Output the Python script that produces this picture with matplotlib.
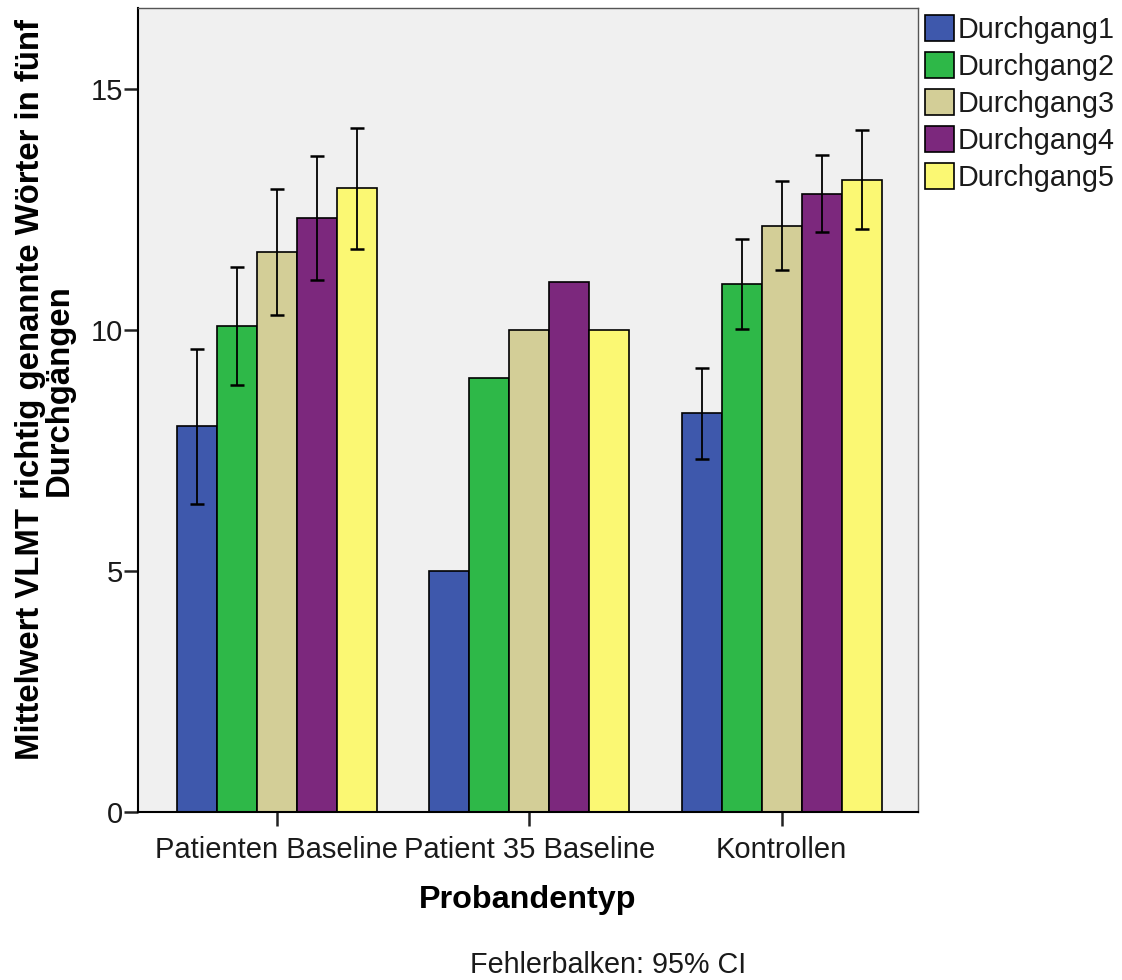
import matplotlib
matplotlib.use("Agg")
import matplotlib.pyplot as plt
import numpy as np

categories = ["Patienten Baseline", "Patient 35 Baseline", "Kontrollen"]
series = ["Durchgang1", "Durchgang2", "Durchgang3", "Durchgang4", "Durchgang5"]
means = [
    [8.0, 5.0, 8.28],
    [10.08, 9.0, 10.95],
    [11.62, 10.0, 12.16],
    [12.32, 11.0, 12.82],
    [12.95, 10.0, 13.11],
]
ci_low = [
    [6.39, None, 7.33],
    [8.86, None, 10.02],
    [10.31, None, 11.25],
    [11.03, None, 12.03],
    [11.67, None, 12.10],
]
ci_high = [
    [9.60, None, 9.22],
    [11.31, None, 11.88],
    [12.93, None, 13.09],
    [13.61, None, 13.64],
    [14.19, None, 14.15],
]
colors = ["#3E58AC", "#2EB848", "#D3CE97", "#7C287D", "#FBF873"]
yticks = [0, 5, 10, 15]

plt.rcParams['font.family'] = ['Liberation Sans', 'DejaVu Sans']

W, H = 1122, 980
fig = plt.figure(figsize=(W / 100, H / 100), dpi=100)
ax = fig.add_axes([138 / W, 1 - 812 / H, 780 / W, 804 / H])
ax.set_facecolor("#F0F0F0")

x = np.arange(len(categories))
bw = 0.1584
for i, s in enumerate(series):
    xs = x + (i - 2) * bw
    ax.bar(xs, means[i], width=bw, color=colors[i], edgecolor="black",
           linewidth=1.2, label=s, zorder=2)
    for j in range(len(categories)):
        lo, hi = ci_low[i][j], ci_high[i][j]
        if lo is None:
            continue
        ax.errorbar(xs[j], means[i][j],
                    yerr=[[means[i][j] - lo], [hi - means[i][j]]],
                    fmt="none", ecolor="black", elinewidth=1.3,
                    capsize=5, capthick=1.8, zorder=3)

ax.set_xlim(-0.55, 2.54)
ax.set_ylim(0, 16.68)
ax.set_xticks(x)
ax.set_xticklabels(categories, fontsize=21, color="#1a1a1a")
ax.set_yticks(yticks)
ax.set_yticklabels([str(t) for t in yticks], fontsize=21, color="#1a1a1a")
ax.tick_params(axis="both", direction="out", length=10, width=1.8, color="#222222")
ax.tick_params(axis="x", pad=7)
ax.tick_params(axis="y", pad=1)

for sp in ["left", "bottom"]:
    ax.spines[sp].set_linewidth(1.5)
    ax.spines[sp].set_color("black")
for sp in ["top", "right"]:
    ax.spines[sp].set_linewidth(1.0)
    ax.spines[sp].set_color("#555555")

fig.text(45 / W, 1 - 390 / H,
         "Mittelwert VLMT richtig genannte Wörter in fünf\nDurchgängen",
         rotation=90, ha="center", va="center", fontsize=23.7,
         fontweight="bold", multialignment="center", linespacing=0.9)
fig.text(528 / W, 1 - 900 / H, "Probandentyp", ha="center", va="center",
         fontsize=23.3, fontweight="bold")
fig.text(608 / W, 1 - 965 / H, "Fehlerbalken: 95% CI", ha="center",
         va="center", fontsize=20.7, color="#1a1a1a")

leg = fig.legend(loc="upper left", bbox_to_anchor=(922 / W, 1 - 12 / H),
                 frameon=False, fontsize=20.7, handlelength=1.0,
                 handleheight=1.0, handletextpad=0.15, labelspacing=0.29,
                 borderpad=0.1, borderaxespad=0)
for t in leg.get_texts():
    t.set_color("#1a1a1a")

fig.savefig("out.png", dpi=100, facecolor="white")
